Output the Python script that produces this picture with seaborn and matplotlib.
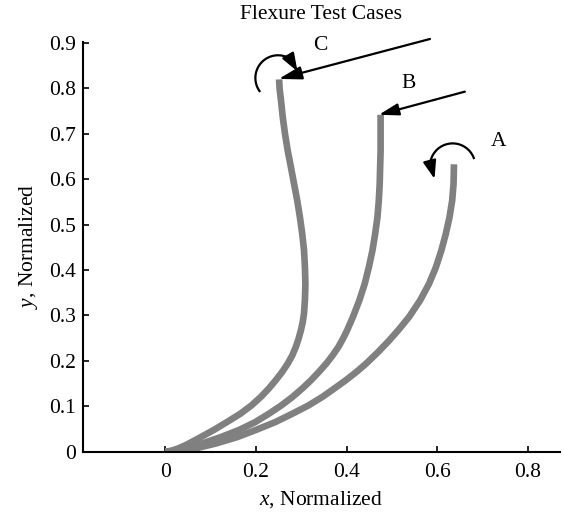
import numpy as np
import pandas as pd
import matplotlib
matplotlib.use("Agg")
import matplotlib.pyplot as plt
import seaborn as sns

# ---- data ----
case_a_x = [0.0, 0.040, 0.070, 0.111, 0.158, 0.200, 0.242, 0.281, 0.316, 0.347,
            0.374, 0.399, 0.422, 0.443, 0.470, 0.494, 0.516, 0.538, 0.562, 0.582,
            0.597, 0.609, 0.619, 0.627, 0.633, 0.636, 0.637]
case_a_y = [0.0, 0.003, 0.008, 0.018, 0.032, 0.048, 0.065, 0.084, 0.102, 0.121,
            0.140, 0.158, 0.176, 0.194, 0.220, 0.245, 0.270, 0.297, 0.333, 0.370,
            0.406, 0.443, 0.480, 0.516, 0.553, 0.590, 0.633]

case_b_x = [0.0, 0.030, 0.052, 0.081, 0.122, 0.163, 0.198, 0.229, 0.256, 0.281,
            0.303, 0.322, 0.339, 0.355, 0.369, 0.382, 0.392, 0.401, 0.414, 0.428,
            0.440, 0.449, 0.457, 0.463, 0.468, 0.471, 0.473, 0.474, 0.475, 0.475,
            0.475]
case_b_y = [0.0, 0.003, 0.008, 0.018, 0.032, 0.048, 0.065, 0.084, 0.102, 0.121,
            0.140, 0.158, 0.176, 0.194, 0.212, 0.231, 0.249, 0.267, 0.297, 0.333,
            0.370, 0.406, 0.443, 0.480, 0.516, 0.553, 0.590, 0.627, 0.663, 0.700,
            0.742]

case_c_x = [0.0, 0.013, 0.028, 0.048, 0.076, 0.107, 0.137, 0.166, 0.190, 0.211,
            0.229, 0.244, 0.258, 0.270, 0.280, 0.288, 0.294, 0.299, 0.303, 0.306,
            0.308, 0.309, 0.308, 0.306, 0.302, 0.297, 0.291, 0.284, 0.277, 0.270,
            0.264, 0.259, 0.255, 0.252, 0.251]
case_c_y = [0.0, 0.002, 0.007, 0.016, 0.031, 0.048, 0.066, 0.084, 0.102, 0.121,
            0.140, 0.158, 0.176, 0.194, 0.212, 0.231, 0.249, 0.267, 0.285, 0.305,
            0.335, 0.370, 0.406, 0.443, 0.480, 0.516, 0.553, 0.590, 0.627, 0.663,
            0.700, 0.737, 0.775, 0.800, 0.820]

case_names = ["A", "B", "C"]
label_pos_x = [0.735, 0.536, 0.341]
label_pos_y = [0.683, 0.811, 0.894]

# force arrows (tail, tip)
force_b = [(0.661, 0.793), (0.471, 0.742)]
force_c = [(0.584, 0.909), (0.250, 0.821)]
# moment arcs: centre x, centre y, radius, start angle, end angle (deg), head tip
moment_a = (0.634, 0.629, 0.050, 18, 172, (0.594, 0.601))
moment_c = (0.2486, 0.8231, 0.050, 218, 58, (0.2916, 0.8374))

x_ticks = [0, 0.2, 0.4, 0.6, 0.8]
x_tick_labels = ["0", "0.2", "0.4", "0.6", "0.8"]
y_ticks = [0, 0.1, 0.2, 0.3, 0.4, 0.5, 0.6, 0.7, 0.8, 0.9]
y_tick_labels = ["0", "0.1", "0.2", "0.3", "0.4", "0.5", "0.6", "0.7", "0.8", "0.9"]

title = "Flexure Test Cases"
x_label = r"$x$, Normalized"
y_label = r"$y$, Normalized"

# ---- build table ----
frames = []
for name, xs, ys in zip(case_names, [case_a_x, case_b_x, case_c_x],
                        [case_a_y, case_b_y, case_c_y]):
    frames.append(pd.DataFrame({"case": name, "x": xs, "y": ys}))
df = pd.concat(frames, ignore_index=True)

# ---- style ----
sns.set_style("ticks", {"xtick.direction": "in", "ytick.direction": "in"})
plt.rcParams["font.family"] = ["Liberation Serif", "DejaVu Serif"]
plt.rcParams["mathtext.fontset"] = "custom"
plt.rcParams["mathtext.rm"] = "Liberation Serif"
plt.rcParams["mathtext.it"] = "Liberation Serif:italic"
FS = 15.5

fig = plt.figure(figsize=(5.64, 5.17), dpi=100)
ax = fig.add_axes([82.5 / 564, 65.3 / 517, 477.5 / 564, 410 / 517])

sns.lineplot(data=df, x="x", y="y", units="case", estimator=None, sort=False,
             color="#808080", linewidth=4.8, ax=ax, legend=False)
for ln in ax.lines:
    ln.set_solid_capstyle("butt")
    ln.set_solid_joinstyle("round")

ax.set_xlim(-0.183, 0.871)
ax.set_ylim(0, 0.903)
ax.set_xticks(x_ticks, x_tick_labels)
ax.set_yticks(y_ticks, y_tick_labels)
ax.tick_params(axis="both", labelsize=FS, length=4, width=1.2, color="black",
               labelcolor="black")
ax.tick_params(axis="x", pad=8)
ax.tick_params(axis="y", pad=4.5)
for s in ["left", "bottom"]:
    ax.spines[s].set_linewidth(1.5)
    ax.spines[s].set_color("black")
sns.despine(ax=ax)

ax.set_xlabel(x_label, fontsize=FS, labelpad=5, color="black")
ax.set_ylabel(y_label, fontsize=FS, labelpad=7, color="black")
ax.set_title(title, fontsize=FS, pad=16, color="black")

# force arrows
for (tail, tip), hl, hw in [(force_b, 0.6, 0.18), (force_c, 0.7, 0.2)]:
    ax.annotate("", xy=tip, xytext=tail, annotation_clip=False,
                arrowprops=dict(arrowstyle=f"-|>,head_length={hl},head_width={hw}",
                                mutation_scale=20, lw=1.6, color="black",
                                shrinkA=0, shrinkB=0, clip_on=False))

# moment arcs: arc stroke plus a separate arrow head
for cx, cy, r, t1, t2, tip in [moment_a, moment_c]:
    t = np.radians(np.linspace(t1, t2, 90))
    ax.plot(cx + r * np.cos(t), cy + r * np.sin(t), color="black", lw=1.6,
            solid_capstyle="butt", clip_on=False)
    base = (cx + r * np.cos(np.radians(t2)), cy + r * np.sin(np.radians(t2)))
    ax.annotate("", xy=tip, xytext=base, annotation_clip=False,
                arrowprops=dict(arrowstyle="-|>,head_length=0.55,head_width=0.2",
                                mutation_scale=20, lw=1.6, color="black",
                                shrinkA=0, shrinkB=0, clip_on=False))

for name, lx, ly in zip(case_names, label_pos_x, label_pos_y):
    ax.text(lx, ly, name, fontsize=FS, ha="center", va="center", color="black")

fig.savefig("out.png", dpi=100)
